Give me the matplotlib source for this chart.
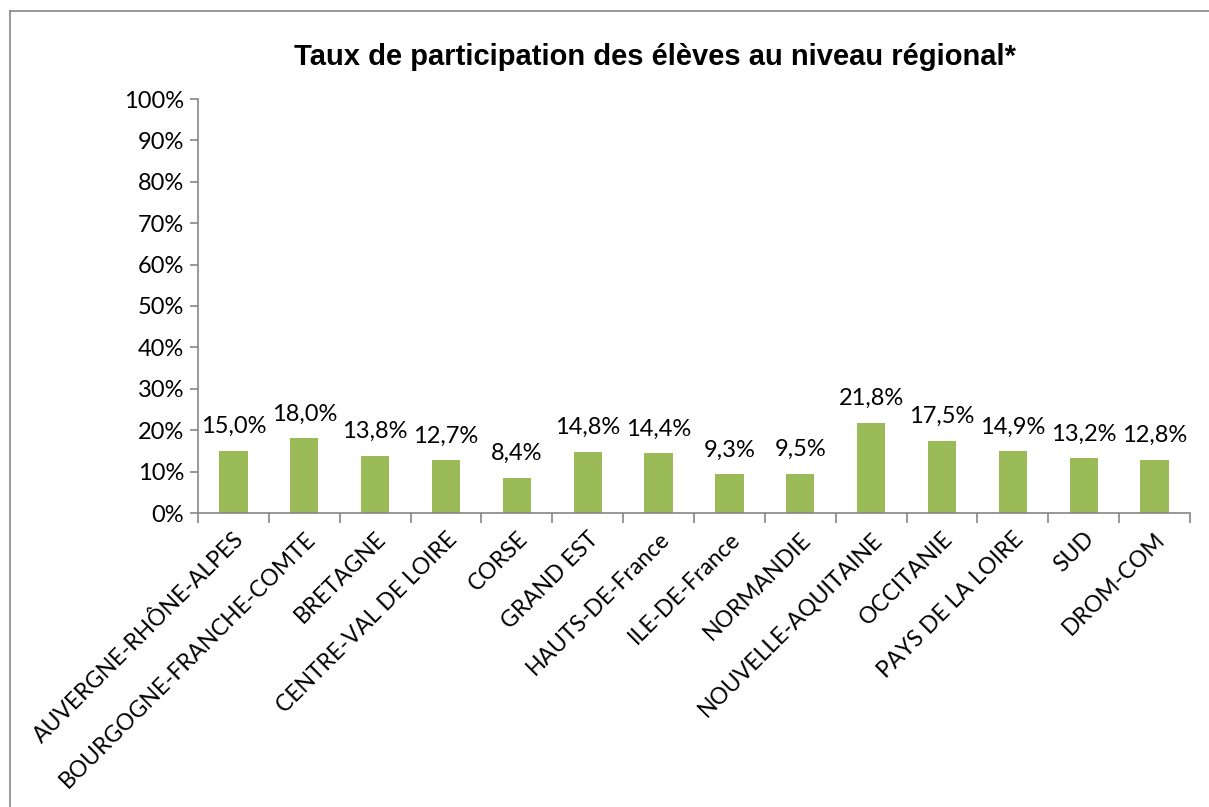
# Bar chart: taux de participation par region
import matplotlib.pyplot as plt
import numpy as np

regions = ['AUVERGNE-RHÔNE-ALPES', 'BOURGOGNE-FRANCHE-COMTE', 'BRETAGNE',
           'CENTRE-VAL DE LOIRE', 'CORSE', 'GRAND EST', 'HAUTS-DE-France',
           'ILE-DE-France', 'NORMANDIE', 'NOUVELLE-AQUITAINE', 'OCCITANIE',
           'PAYS DE LA LOIRE', 'SUD', 'DROM-COM']
taux = [15.0, 18.0, 13.8, 12.7, 8.4, 14.8, 14.4, 9.3, 9.5, 21.8, 17.5, 14.9, 13.2, 12.8]
yticks = list(range(0, 101, 10))

grey = '#868686'
green = '#9BBB59'
lbl_font = 'Lato'

fig = plt.figure(figsize=(12.09, 8.07), dpi=100)
ax = fig.add_axes([198/1209, 1-513/807, (1190-198)/1209, (513-99)/807])

x = np.arange(len(regions))
ax.bar(x, taux, width=0.4, color=green)
for xi, v in zip(x, taux):
    ax.annotate(f'{v:.1f}%'.replace('.', ','), (xi, v), xytext=(0, 10),
                textcoords='offset points', ha='center', va='bottom',
                fontsize=17, family=lbl_font)

ax.set_xlim(-0.5, len(regions) - 0.5)
ax.set_ylim(0, 100)
ax.set_yticks(yticks)
ax.set_yticklabels([f'{t}%' for t in yticks], fontsize=17, family=lbl_font)
ax.set_xticks(x)
ax.set_xticklabels(regions, rotation=45, ha='right', va='top',
                   rotation_mode='anchor', fontsize=16.5, family=lbl_font)
ax.tick_params(axis='x', length=0, pad=11)
ax.set_xticks(np.arange(len(regions) + 1) - 0.5, minor=True)
ax.tick_params(axis='x', which='minor', length=7, color=grey, width=1.2)
ax.tick_params(axis='y', length=6, color=grey, width=1.2, pad=4)

for s in ['top', 'right']:
    ax.spines[s].set_visible(False)
for s in ['left', 'bottom']:
    ax.spines[s].set_color(grey)
    ax.spines[s].set_linewidth(1.2)

fig.text(655/1209, 1-57/807, 'Taux de participation des élèves au niveau régional*',
         ha='center', va='center', fontsize=21, fontweight='bold',
         family='Liberation Sans')

# outer border (left and top visible)
fig.add_artist(plt.Line2D([10/1209, 10/1209], [0, 1-11/807], color=grey, lw=1.2))
fig.add_artist(plt.Line2D([10/1209, 1], [1-11/807, 1-11/807], color=grey, lw=1.2))

fig.savefig('out.png', dpi=100)
